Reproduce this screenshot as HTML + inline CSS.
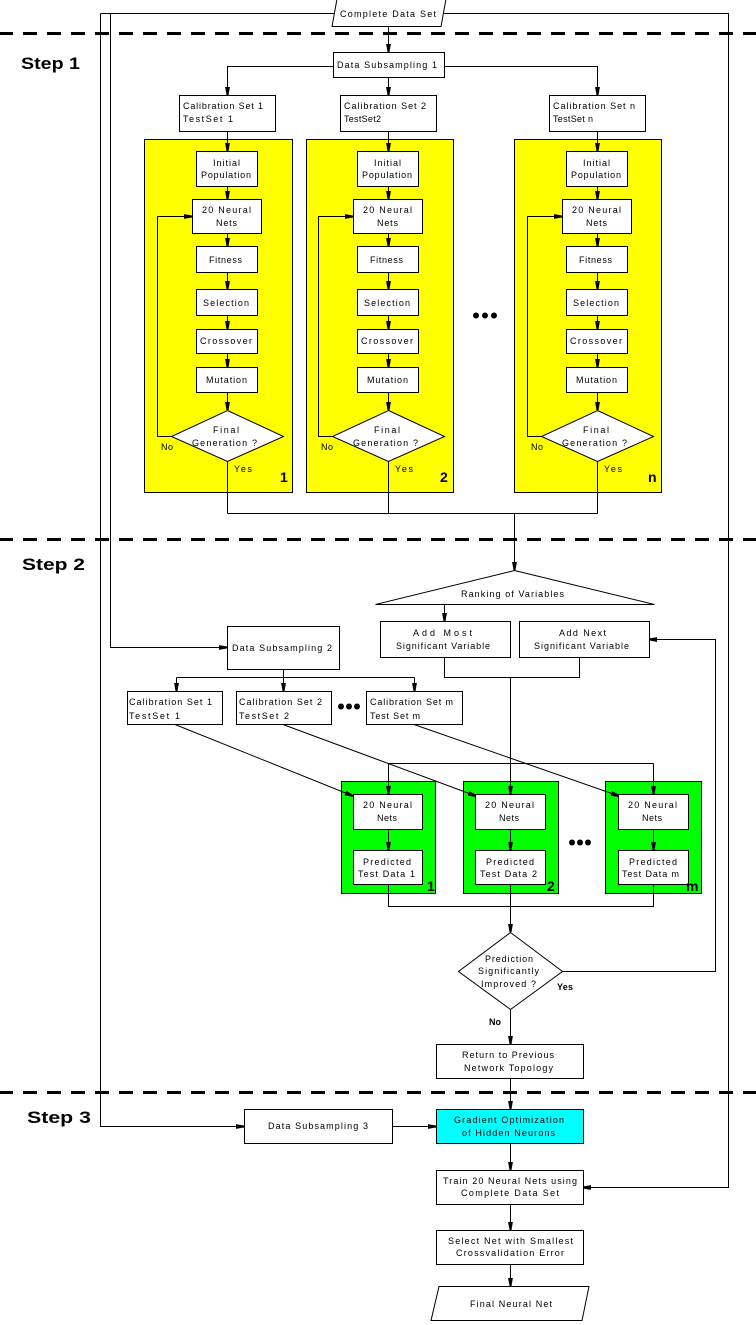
<!DOCTYPE html>
<html>
<head>
<meta charset="utf-8">
<style>
html,body{margin:0;padding:0;background:#fff;}
svg{display:block;}
text{font-family:"Liberation Sans",Arial,sans-serif;font-size:9px;fill:#000;}
.st{font-size:17px;font-weight:bold;}
.num{font-size:14px;font-weight:bold;}
.b{font-weight:bold;}
</style>
</head>
<body>
<svg width="756" height="1325" viewBox="0 0 756 1325" xmlns="http://www.w3.org/2000/svg">
<defs>
<marker id="a" markerUnits="userSpaceOnUse" markerWidth="8" markerHeight="6" viewBox="0 0 8 6" refX="8" refY="3" orient="auto">
<path d="M0,0.6 L8,2 L8,4 L0,5.4 z" fill="#000"/>
</marker>
</defs>
<rect width="756" height="1325" fill="#fff"/>

<!-- Yellow panels -->
<g fill="#ffff00" stroke="#000" stroke-width="1">
<rect x="144.5" y="139.5" width="148" height="353"/>
<rect x="306.5" y="139.5" width="147" height="353"/>
<rect x="514.5" y="139.5" width="147" height="353"/>
</g>
<!-- Green panels -->
<g fill="#00ff00" stroke="#000" stroke-width="1">
<rect x="341.5" y="781.5" width="94" height="112"/>
<rect x="463.5" y="781.5" width="95" height="112"/>
<rect x="605.5" y="781.5" width="96" height="112"/>
</g>

<!-- Connectors -->
<g fill="none" stroke="#000" stroke-width="1">
<path d="M100.5,13.5 H335"/>
<path d="M443,13.5 H728.5 V1187.5 H583" marker-end="url(#a)"/>
<path d="M100.5,13.5 V1126.5 H244" marker-end="url(#a)"/>
<path d="M110.5,13.5 V647.5 H227" marker-end="url(#a)"/>
<path d="M388.5,26 V52" marker-end="url(#a)"/>
<path d="M333,66.5 H227.5 V95" marker-end="url(#a)"/>
<path d="M444,66.5 H597.5 V95" marker-end="url(#a)"/>
<path d="M388.5,77 V95" marker-end="url(#a)"/>

<!-- column 1 -->
<path d="M227.5,131 V151" marker-end="url(#a)"/>
<path d="M227.5,186.5 V199" marker-end="url(#a)"/>
<path d="M227.5,233.5 V246" marker-end="url(#a)"/>
<path d="M227.5,272.5 V289" marker-end="url(#a)"/>
<path d="M227.5,315.5 V329" marker-end="url(#a)"/>
<path d="M227.5,353.5 V367" marker-end="url(#a)"/>
<path d="M227.5,392.5 V410" marker-end="url(#a)"/>
<path d="M171,436.5 H157.5 V216.5 H192" marker-end="url(#a)"/>
<path d="M227.5,461.5 V513.5"/>
<!-- column 2 -->
<path d="M388.5,131 V151" marker-end="url(#a)"/>
<path d="M388.5,186.5 V199" marker-end="url(#a)"/>
<path d="M388.5,233.5 V246" marker-end="url(#a)"/>
<path d="M388.5,272.5 V289" marker-end="url(#a)"/>
<path d="M388.5,315.5 V329" marker-end="url(#a)"/>
<path d="M388.5,353.5 V367" marker-end="url(#a)"/>
<path d="M388.5,392.5 V410" marker-end="url(#a)"/>
<path d="M332,436.5 H318.5 V216.5 H353" marker-end="url(#a)"/>
<path d="M388.5,461.5 V513.5"/>
<!-- column n -->
<path d="M597.5,131 V151" marker-end="url(#a)"/>
<path d="M597.5,186.5 V199" marker-end="url(#a)"/>
<path d="M597.5,233.5 V246" marker-end="url(#a)"/>
<path d="M597.5,272.5 V289" marker-end="url(#a)"/>
<path d="M597.5,315.5 V329" marker-end="url(#a)"/>
<path d="M597.5,353.5 V367" marker-end="url(#a)"/>
<path d="M597.5,392.5 V410" marker-end="url(#a)"/>
<path d="M541,436.5 H527.5 V216.5 H562" marker-end="url(#a)"/>
<path d="M597.5,461.5 V513.5"/>

<path d="M227.5,513.5 H597.5"/>
<path d="M514.5,513.5 V570" marker-end="url(#a)"/>
<path d="M444.5,604.5 V621" marker-end="url(#a)"/>
<path d="M562,971.5 H715.5 V639.5 H649" marker-end="url(#a)"/>
<path d="M444.5,657.5 V677.5 H579.5 V657.5"/>
<path d="M510.5,677.5 V794" marker-end="url(#a)"/>
<path d="M388.5,763.5 H653.5"/>
<path d="M388.5,763.5 V794" marker-end="url(#a)"/>
<path d="M653.5,763.5 V794" marker-end="url(#a)"/>

<path d="M283.5,669.5 V677.5"/>
<path d="M176.5,677.5 H414.5"/>
<path d="M176.5,677.5 V691" marker-end="url(#a)"/>
<path d="M283.5,677.5 V691" marker-end="url(#a)"/>
<path d="M414.5,677.5 V691" marker-end="url(#a)"/>
<path d="M175,724.5 L353,796" marker-end="url(#a)"/>
<path d="M283,724.5 L476,796" marker-end="url(#a)"/>
<path d="M414,724.5 L619,796" marker-end="url(#a)"/>

<path d="M388.5,829.5 V850" marker-end="url(#a)"/>
<path d="M510.5,829.5 V850" marker-end="url(#a)"/>
<path d="M653.5,829.5 V850" marker-end="url(#a)"/>
<path d="M388.5,884.5 V906.5 H653.5 V884.5"/>
<path d="M510.5,884.5 V932" marker-end="url(#a)"/>
<path d="M510.5,1009.5 V1044" marker-end="url(#a)"/>
<path d="M510.5,1078.5 V1109" marker-end="url(#a)"/>
<path d="M392.5,1126.5 H436" marker-end="url(#a)"/>
<path d="M510.5,1143.5 V1170" marker-end="url(#a)"/>
<path d="M510.5,1204.5 V1230" marker-end="url(#a)"/>
<path d="M510.5,1264.5 V1286" marker-end="url(#a)"/>
</g>

<!-- Boxes -->
<g fill="#fff" stroke="#000" stroke-width="1">
<polygon points="337,-1 446,-1 441,26.5 332,26.5"/>
<rect x="333.5" y="52.5" width="111" height="25"/>
<rect x="179.5" y="95.5" width="96" height="36"/>
<rect x="340.5" y="95.5" width="96" height="36"/>
<rect x="549.5" y="95.5" width="96" height="36"/>

<!-- col 1 -->
<rect x="196.5" y="151.5" width="61" height="35"/>
<rect x="192.5" y="199.5" width="69" height="34"/>
<rect x="196.5" y="246.5" width="61" height="26"/>
<rect x="196.5" y="289.5" width="61" height="26"/>
<rect x="196.5" y="329.5" width="61" height="24"/>
<rect x="196.5" y="367.5" width="61" height="25"/>
<polygon points="227.5,410.5 283.5,436.5 227.5,461.5 171.5,436.5"/>
<!-- col 2 -->
<rect x="357.5" y="151.5" width="61" height="35"/>
<rect x="353.5" y="199.5" width="69" height="34"/>
<rect x="357.5" y="246.5" width="61" height="26"/>
<rect x="357.5" y="289.5" width="61" height="26"/>
<rect x="357.5" y="329.5" width="61" height="24"/>
<rect x="357.5" y="367.5" width="61" height="25"/>
<polygon points="388.5,410.5 444.5,436.5 388.5,461.5 332.5,436.5"/>
<!-- col n -->
<rect x="566.5" y="151.5" width="61" height="35"/>
<rect x="562.5" y="199.5" width="69" height="34"/>
<rect x="566.5" y="246.5" width="61" height="26"/>
<rect x="566.5" y="289.5" width="61" height="26"/>
<rect x="566.5" y="329.5" width="61" height="24"/>
<rect x="566.5" y="367.5" width="61" height="25"/>
<polygon points="597.5,410.5 653.5,436.5 597.5,461.5 541.5,436.5"/>

<!-- step 2 -->
<polygon points="514.5,570.5 654.5,604.5 375.5,604.5"/>
<rect x="380.5" y="621.5" width="130" height="36"/>
<rect x="519.5" y="621.5" width="130" height="36"/>
<rect x="227.5" y="626.5" width="112" height="43"/>
<rect x="127.5" y="691.5" width="95" height="33"/>
<rect x="236.5" y="691.5" width="95" height="33"/>
<rect x="366.5" y="691.5" width="96" height="33"/>

<rect x="353.5" y="794.5" width="69" height="35"/>
<rect x="353.5" y="850.5" width="69" height="34"/>
<rect x="475.5" y="794.5" width="70" height="35"/>
<rect x="475.5" y="850.5" width="70" height="34"/>
<rect x="618.5" y="794.5" width="70" height="35"/>
<rect x="618.5" y="850.5" width="70" height="34"/>

<polygon points="510.5,932.5 562.5,971.5 510.5,1009.5 458.5,971.5"/>
<rect x="436.5" y="1044.5" width="147" height="34"/>
<rect x="244.5" y="1109.5" width="148" height="34"/>
<rect x="436.5" y="1109.5" width="147" height="34" fill="#00ffff"/>
<rect x="436.5" y="1170.5" width="147" height="34"/>
<rect x="436.5" y="1230.5" width="147" height="34"/>
<polygon points="439,1286.5 589,1286.5 582,1320.5 431,1320.5"/>
</g>

<!-- Dashed separators -->
<g stroke="#000" stroke-width="3" stroke-dasharray="14 10" stroke-dashoffset="1">
<line x1="0" y1="33.5" x2="756" y2="33.5"/>
<line x1="0" y1="539.5" x2="756" y2="539.5"/>
<line x1="0" y1="1092.5" x2="756" y2="1092.5"/>
</g>

<!-- Dots -->
<g fill="#000">
<circle cx="476" cy="315.5" r="3"/><circle cx="485" cy="315.5" r="3"/><circle cx="494" cy="315.5" r="3"/>
<circle cx="341" cy="706.5" r="3"/><circle cx="349" cy="706.5" r="3"/><circle cx="357" cy="706.5" r="3"/>
<circle cx="572" cy="842.5" r="3"/><circle cx="580" cy="842.5" r="3"/><circle cx="588" cy="842.5" r="3"/>
</g>

<!-- Step labels -->
<text class="st" x="21" y="69" textLength="59" lengthAdjust="spacingAndGlyphs">Step 1</text>
<text class="st" x="22" y="570" textLength="63" lengthAdjust="spacingAndGlyphs">Step 2</text>
<text class="st" x="27" y="1123" textLength="64" lengthAdjust="spacingAndGlyphs">Step 3</text>

<!-- Step 1 texts -->
<text x="340" y="17" textLength="96" lengthAdjust="spacing">Complete Data Set</text>
<text x="337" y="68" textLength="100" lengthAdjust="spacing">Data Subsampling 1</text>

<text x="183" y="109" textLength="80" lengthAdjust="spacing">Calibration Set 1</text>
<text x="183" y="122" textLength="50" lengthAdjust="spacing">TestSet 1</text>
<text x="344" y="109" textLength="82" lengthAdjust="spacing">Calibration Set 2</text>
<text x="344" y="122" textLength="37" lengthAdjust="spacing">TestSet2</text>
<text x="553" y="109" textLength="82" lengthAdjust="spacing">Calibration Set n</text>
<text x="553" y="122" textLength="40" lengthAdjust="spacing">TestSet n</text>

<!-- col 1 texts -->
<text x="213" y="166" textLength="27" lengthAdjust="spacing">Initial</text>
<text x="201" y="178" textLength="50" lengthAdjust="spacing">Population</text>
<text x="202" y="213" textLength="49" lengthAdjust="spacing">20 Neural</text>
<text x="216" y="226" textLength="21" lengthAdjust="spacing">Nets</text>
<text x="209" y="263" textLength="33" lengthAdjust="spacing">Fitness</text>
<text x="203" y="306" textLength="46" lengthAdjust="spacing">Selection</text>
<text x="200" y="344" textLength="52" lengthAdjust="spacing">Crossover</text>
<text x="206" y="383" textLength="41" lengthAdjust="spacing">Mutation</text>
<text x="213" y="433" textLength="26" lengthAdjust="spacing">Final</text>
<text x="192" y="446" textLength="65" lengthAdjust="spacing">Generation ?</text>
<text x="161" y="450" textLength="12" lengthAdjust="spacing">No</text>
<text x="234" y="472" textLength="18" lengthAdjust="spacing">Yes</text>
<text class="num" x="280" y="482">1</text>

<!-- col 2 texts -->
<text x="374" y="166" textLength="27" lengthAdjust="spacing">Initial</text>
<text x="362" y="178" textLength="50" lengthAdjust="spacing">Population</text>
<text x="363" y="213" textLength="49" lengthAdjust="spacing">20 Neural</text>
<text x="377" y="226" textLength="21" lengthAdjust="spacing">Nets</text>
<text x="370" y="263" textLength="33" lengthAdjust="spacing">Fitness</text>
<text x="364" y="306" textLength="46" lengthAdjust="spacing">Selection</text>
<text x="361" y="344" textLength="52" lengthAdjust="spacing">Crossover</text>
<text x="367" y="383" textLength="41" lengthAdjust="spacing">Mutation</text>
<text x="374" y="433" textLength="26" lengthAdjust="spacing">Final</text>
<text x="353" y="446" textLength="65" lengthAdjust="spacing">Generation ?</text>
<text x="321" y="450" textLength="12" lengthAdjust="spacing">No</text>
<text x="395" y="472" textLength="18" lengthAdjust="spacing">Yes</text>
<text class="num" x="440" y="482">2</text>

<!-- col n texts -->
<text x="583" y="166" textLength="27" lengthAdjust="spacing">Initial</text>
<text x="571" y="178" textLength="50" lengthAdjust="spacing">Population</text>
<text x="572" y="213" textLength="49" lengthAdjust="spacing">20 Neural</text>
<text x="586" y="226" textLength="21" lengthAdjust="spacing">Nets</text>
<text x="579" y="263" textLength="33" lengthAdjust="spacing">Fitness</text>
<text x="573" y="306" textLength="46" lengthAdjust="spacing">Selection</text>
<text x="570" y="344" textLength="52" lengthAdjust="spacing">Crossover</text>
<text x="576" y="383" textLength="41" lengthAdjust="spacing">Mutation</text>
<text x="583" y="433" textLength="26" lengthAdjust="spacing">Final</text>
<text x="562" y="446" textLength="65" lengthAdjust="spacing">Generation ?</text>
<text x="531" y="450" textLength="12" lengthAdjust="spacing">No</text>
<text x="604" y="472" textLength="18" lengthAdjust="spacing">Yes</text>
<text class="num" x="648" y="482">n</text>

<!-- Step 2 texts -->
<text x="461" y="597" textLength="103" lengthAdjust="spacing">Ranking of Variables</text>
<text x="413" y="636" textLength="59" lengthAdjust="spacing">Add Most</text>
<text x="396" y="649" textLength="94" lengthAdjust="spacing">Significant Variable</text>
<text x="559" y="636" textLength="47" lengthAdjust="spacing">Add Next</text>
<text x="534" y="649" textLength="95" lengthAdjust="spacing">Significant Variable</text>
<text x="232" y="651" textLength="100" lengthAdjust="spacing">Data Subsampling 2</text>

<text x="129" y="705" textLength="83" lengthAdjust="spacing">Calibration Set 1</text>
<text x="129" y="719" textLength="51" lengthAdjust="spacing">TestSet 1</text>
<text x="239" y="705" textLength="83" lengthAdjust="spacing">Calibration Set 2</text>
<text x="239" y="719" textLength="50" lengthAdjust="spacing">TestSet 2</text>
<text x="370" y="705" textLength="83" lengthAdjust="spacing">Calibration Set m</text>
<text x="370" y="719" textLength="50" lengthAdjust="spacing">Test Set m</text>

<text x="363" y="808" textLength="49" lengthAdjust="spacing">20 Neural</text>
<text x="377" y="821" textLength="20" lengthAdjust="spacing">Nets</text>
<text x="363" y="865" textLength="48" lengthAdjust="spacing">Predicted</text>
<text x="358" y="877" textLength="57" lengthAdjust="spacing">Test Data 1</text>
<text class="num" x="427" y="891">1</text>

<text x="485" y="808" textLength="49" lengthAdjust="spacing">20 Neural</text>
<text x="499" y="821" textLength="20" lengthAdjust="spacing">Nets</text>
<text x="486" y="865" textLength="48" lengthAdjust="spacing">Predicted</text>
<text x="480" y="877" textLength="57" lengthAdjust="spacing">Test Data 2</text>
<text class="num" x="547" y="891">2</text>

<text x="628" y="808" textLength="49" lengthAdjust="spacing">20 Neural</text>
<text x="642" y="821" textLength="20" lengthAdjust="spacing">Nets</text>
<text x="629" y="865" textLength="48" lengthAdjust="spacing">Predicted</text>
<text x="622" y="877" textLength="57" lengthAdjust="spacing">Test Data m</text>
<text class="num" x="686" y="891">m</text>

<text x="485" y="962" textLength="48" lengthAdjust="spacing">Prediction</text>
<text x="478" y="974" textLength="61" lengthAdjust="spacing">Significantly</text>
<text x="481" y="987" textLength="55" lengthAdjust="spacing">Improved ?</text>
<text class="b" x="557" y="990" textLength="16" lengthAdjust="spacing">Yes</text>
<text class="b" x="489" y="1025" textLength="12" lengthAdjust="spacing">No</text>
<text x="462" y="1058" textLength="92" lengthAdjust="spacing">Return to Previous</text>
<text x="464" y="1071" textLength="89" lengthAdjust="spacing">Network Topology</text>

<!-- Step 3 texts -->
<text x="268" y="1129" textLength="100" lengthAdjust="spacing">Data Subsampling 3</text>
<text x="454" y="1123" textLength="110" lengthAdjust="spacing">Gradient Optimization</text>
<text x="462" y="1136" textLength="93" lengthAdjust="spacing">of Hidden Neurons</text>
<text x="443" y="1184" textLength="134" lengthAdjust="spacing">Train 20 Neural Nets using</text>
<text x="461" y="1196" textLength="98" lengthAdjust="spacing">Complete Data Set</text>
<text x="448" y="1244" textLength="125" lengthAdjust="spacing">Select Net with Smallest</text>
<text x="456" y="1256" textLength="108" lengthAdjust="spacing">Crossvalidation Error</text>
<text x="470" y="1307" textLength="82" lengthAdjust="spacing">Final Neural Net</text>
</svg>
</body>
</html>
